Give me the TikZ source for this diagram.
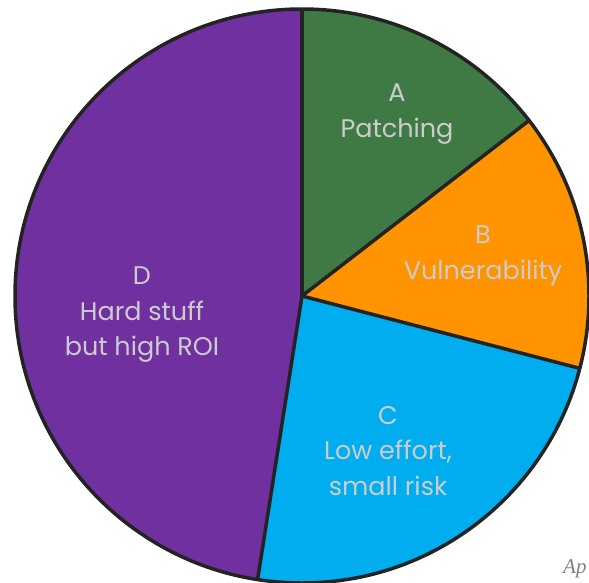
\documentclass[tikz,border=0pt]{standalone}
\usepackage{fontspec}
\setmainfont{Poppins}
\newfontfamily\notefont{Liberation Serif}
\definecolor{sliceA}{HTML}{3F7A45}
\definecolor{sliceB}{HTML}{FF9300}
\definecolor{sliceC}{HTML}{00AEEF}
\definecolor{sliceD}{HTML}{7030A0}
\definecolor{rim}{HTML}{232323}
\definecolor{labelgray}{HTML}{CCCCCC}
\tikzset{
  slice/.style={draw=rim, line width=3.5pt, line join=round},
  piecelabel/.style={text=labelgray, align=center, font=\fontsize{25.5}{35.5}\selectfont},
}
\begin{document}
\begin{tikzpicture}[x=1pt,y=1pt]
\useasboundingbox (0,0) rectangle (589,-582);
\coordinate (O) at (302,-296);
\def\R{287}
% slices, counter-clockwise from the right
\fill[sliceA] (O) -- ++(37.7:\R) arc (37.7:90:\R) -- cycle;
\fill[sliceB] (O) -- ++(-14.6:\R) arc (-14.6:37.7:\R) -- cycle;
\fill[sliceC] (O) -- ++(-98.9:\R) arc (-98.9:-14.6:\R) -- cycle;
\fill[sliceD] (O) -- ++(90:\R) arc (90:261.1:\R) -- cycle;
% outlines
\draw[slice] (O) circle (\R);
\draw[slice] (O) -- ++(90:\R);
\draw[slice] (O) -- ++(37.7:\R);
\draw[slice] (O) -- ++(-14.6:\R);
\draw[slice] (O) -- ++(-98.9:\R);
% labels
\node[piecelabel] (la) at (397,-114) {A\\Patching};
\node[piecelabel] (lb) at (483,-256) {B\\Vulnerability};
\node[piecelabel] (lc) at (388,-451) {C\\Low effort,\\small risk};
\node[piecelabel] (ld) at (142,-315) {D\\Hard stuff\\but high ROI};
\node[anchor=base west, text=gray, font=\notefont\itshape\fontsize{21}{24}\selectfont, inner sep=0] (note) at (563,-573) {Ap};
\end{tikzpicture}
\end{document}
